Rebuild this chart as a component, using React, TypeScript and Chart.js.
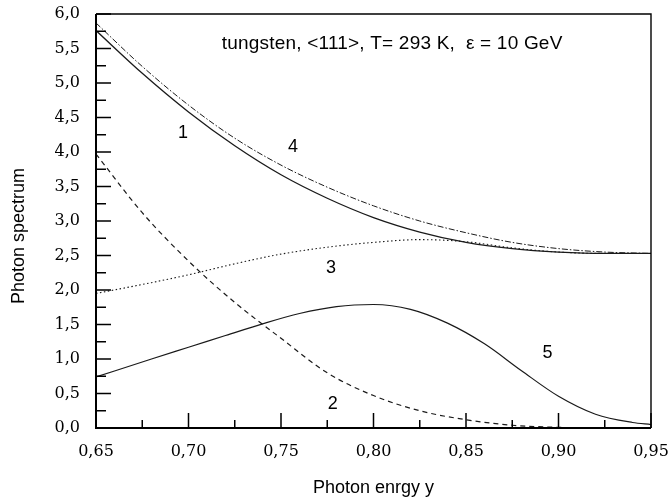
import React, { useEffect, useRef } from "react";
import { Chart, registerables } from "chart.js";

Chart.register(...registerables);

// ---- data ----
const xGrid = [0.65, 0.675, 0.7, 0.725, 0.75, 0.775, 0.8, 0.825, 0.85, 0.875, 0.9, 0.925, 0.95];
const curve1 = [5.76, 5.14, 4.58, 4.09, 3.67, 3.33, 3.05, 2.84, 2.69, 2.6, 2.55, 2.53, 2.53];
const curve4 = [5.87, 5.24, 4.68, 4.2, 3.81, 3.49, 3.22, 3.0, 2.83, 2.69, 2.6, 2.55, 2.53];
const curve3 = [1.95, 2.08, 2.22, 2.38, 2.52, 2.62, 2.69, 2.73, 2.7, 2.61, 2.55, 2.53, 2.53];
const curve2 = [3.97, 3.12, 2.42, 1.82, 1.3, 0.8, 0.47, 0.25, 0.12, 0.04, 0.01, 0.0, 0.0];
const x5 = [0.65, 0.68, 0.7, 0.72, 0.74, 0.76, 0.78, 0.8, 0.82, 0.84, 0.86, 0.88, 0.9, 0.92, 0.94, 0.95];
const curve5 = [0.74, 1.0, 1.17, 1.34, 1.51, 1.66, 1.76, 1.79, 1.72, 1.52, 1.22, 0.83, 0.46, 0.2, 0.08, 0.05];

const xTicks = [0.65, 0.7, 0.75, 0.8, 0.85, 0.9, 0.95];
const yTicks = [0, 0.5, 1, 1.5, 2, 2.5, 3, 3.5, 4, 4.5, 5, 5.5, 6];

const curveLabels = [
  { text: "1", x: 0.697, y: 4.27 },
  { text: "4", x: 0.7565, y: 4.07 },
  { text: "3", x: 0.777, y: 2.32 },
  { text: "2", x: 0.778, y: 0.35 },
  { text: "5", x: 0.894, y: 1.09 },
];
const titleText = "tungsten, <111>, T= 293 K,  \u03b5 = 10 GeV";
const titlePos = { x: 0.718, y: 5.57 };
const xTitle = "Photon enrgy y";
const yTitle = "Photon spectrum";

const fmtX = (v: number) => v.toFixed(2).replace(".", ",");
const fmtY = (v: number) => v.toFixed(1).replace(".", ",");

const SANS = '"Liberation Sans", Arial, sans-serif';
const SERIF = '"DejaVu Serif", serif';

const decor = {
  id: "decor",
  afterDatasetsDraw(chart: any) {
    const { ctx, chartArea: a, scales } = chart;
    const xs = scales.x;
    const ys = scales.y;
    ctx.save();
    ctx.strokeStyle = "#000";
    ctx.fillStyle = "#000";
    ctx.lineWidth = 1.5;
    ctx.beginPath();
    yTicks.forEach((v, i) => {
      const py = ys.getPixelForValue(v);
      ctx.moveTo(a.left, py);
      ctx.lineTo(a.left + 15, py);
      if (i < yTicks.length - 1) {
        const m = ys.getPixelForValue((v + yTicks[i + 1]) / 2);
        ctx.moveTo(a.left, m);
        ctx.lineTo(a.left + 10, m);
      }
    });
    xTicks.forEach((v, i) => {
      const px = xs.getPixelForValue(v);
      ctx.moveTo(px, a.bottom);
      ctx.lineTo(px, a.bottom - 15);
      if (i < xTicks.length - 1) {
        const m = xs.getPixelForValue((v + xTicks[i + 1]) / 2);
        ctx.moveTo(m, a.bottom);
        ctx.lineTo(m, a.bottom - 8);
      }
    });
    ctx.stroke();
    ctx.lineWidth = 1.4;
    ctx.beginPath();
    ctx.moveTo(a.left, a.top);
    ctx.lineTo(a.right, a.top);
    ctx.lineTo(a.right, a.bottom);
    ctx.stroke();
    ctx.lineWidth = 2;
    ctx.beginPath();
    ctx.moveTo(a.left, a.top);
    ctx.lineTo(a.left, a.bottom);
    ctx.lineTo(a.right, a.bottom);
    ctx.stroke();

    ctx.font = `18px ${SANS}`;
    ctx.textAlign = "center";
    ctx.textBaseline = "middle";
    curveLabels.forEach((l) => {
      ctx.fillText(l.text, xs.getPixelForValue(l.x), ys.getPixelForValue(l.y));
    });
    ctx.save();
    ctx.font = `19px ${SANS}`;
    try { (ctx as any).letterSpacing = "0.2px"; } catch (e) {}
    ctx.textAlign = "left";
    ctx.fillText(titleText, xs.getPixelForValue(titlePos.x), ys.getPixelForValue(titlePos.y));
    ctx.restore();

    ctx.textAlign = "center";
    ctx.textBaseline = "alphabetic";
    ctx.fillText(xTitle, (a.left + a.right) / 2, 493);
    ctx.save();
    ctx.translate(24, 236);
    ctx.rotate(-Math.PI / 2);
    ctx.fillText(yTitle, 0, 0);
    ctx.restore();
    ctx.restore();
  },
};

const zeroPad = (s: any) => {
  s.paddingLeft = 0;
  s.paddingRight = 0;
  s.paddingTop = 0;
  s.paddingBottom = 0;
};

export default function App() {
  const ref = useRef<HTMLCanvasElement>(null);
  useEffect(() => {
    if (!ref.current) return;
    const col = "#1a1a1a";
    const pts = (xsArr: number[], ysArr: number[]) => xsArr.map((x, i) => ({ x, y: ysArr[i] }));
    const chart = new Chart(ref.current, {
      type: "line",
      data: {
        datasets: [
          { label: "1", data: pts(xGrid, curve1), borderColor: col, borderWidth: 1.3, cubicInterpolationMode: "monotone" },
          { label: "4", data: pts(xGrid, curve4), borderColor: col, borderWidth: 1, borderDash: [6, 2, 1.5, 2], cubicInterpolationMode: "monotone" },
          { label: "3", data: pts(xGrid, curve3), borderColor: col, borderWidth: 1.1, borderDash: [1.5, 2.5], cubicInterpolationMode: "monotone" },
          { label: "2", data: pts(xGrid, curve2), borderColor: col, borderWidth: 1.2, borderDash: [5, 4], cubicInterpolationMode: "monotone" },
          { label: "5", data: pts(x5, curve5), borderColor: col, borderWidth: 1.2, cubicInterpolationMode: "monotone" },
        ] as any,
      },
      options: {
        animation: false,
        responsive: false,
        devicePixelRatio: 1,
        events: [],
        elements: { point: { radius: 0 } },
        layout: { padding: { top: 14, right: 19, left: 0, bottom: 0 } },
        plugins: { legend: { display: false }, tooltip: { enabled: false } },
        scales: {
          x: {
            type: "linear",
            min: 0.65,
            max: 0.95,
            grid: { display: false, drawTicks: false },
            border: { display: false },
            afterBuildTicks: (s: any) => {
              s.ticks = xTicks.map((v) => ({ value: v }));
            },
            afterFit: (s: any) => {
              s.height = 70;
              zeroPad(s);
            },
            ticks: {
              autoSkip: false,
              maxRotation: 0,
              padding: 14,
              color: "#000",
              font: { family: SERIF, size: 16 },
              callback: (v: any) => fmtX(Number(v)),
            },
          },
          y: {
            type: "linear",
            min: 0,
            max: 6,
            grid: { display: false, drawTicks: false },
            border: { display: false },
            afterBuildTicks: (s: any) => {
              s.ticks = yTicks.map((v) => ({ value: v }));
            },
            afterFit: (s: any) => {
              s.width = 96;
              zeroPad(s);
            },
            ticks: {
              autoSkip: false,
              padding: 16,
              color: "#000",
              font: { family: SERIF, size: 16 },
              callback: (v: any) => fmtY(Number(v)),
            },
          },
        },
      } as any,
      plugins: [decor],
    });
    return () => chart.destroy();
  }, []);
  return (
    <div style={{ position: "absolute", left: 0, top: 0, width: 670, height: 498, background: "#fff" }}>
      <canvas ref={ref} width={670} height={498} style={{ display: "block" }} />
    </div>
  );
}
